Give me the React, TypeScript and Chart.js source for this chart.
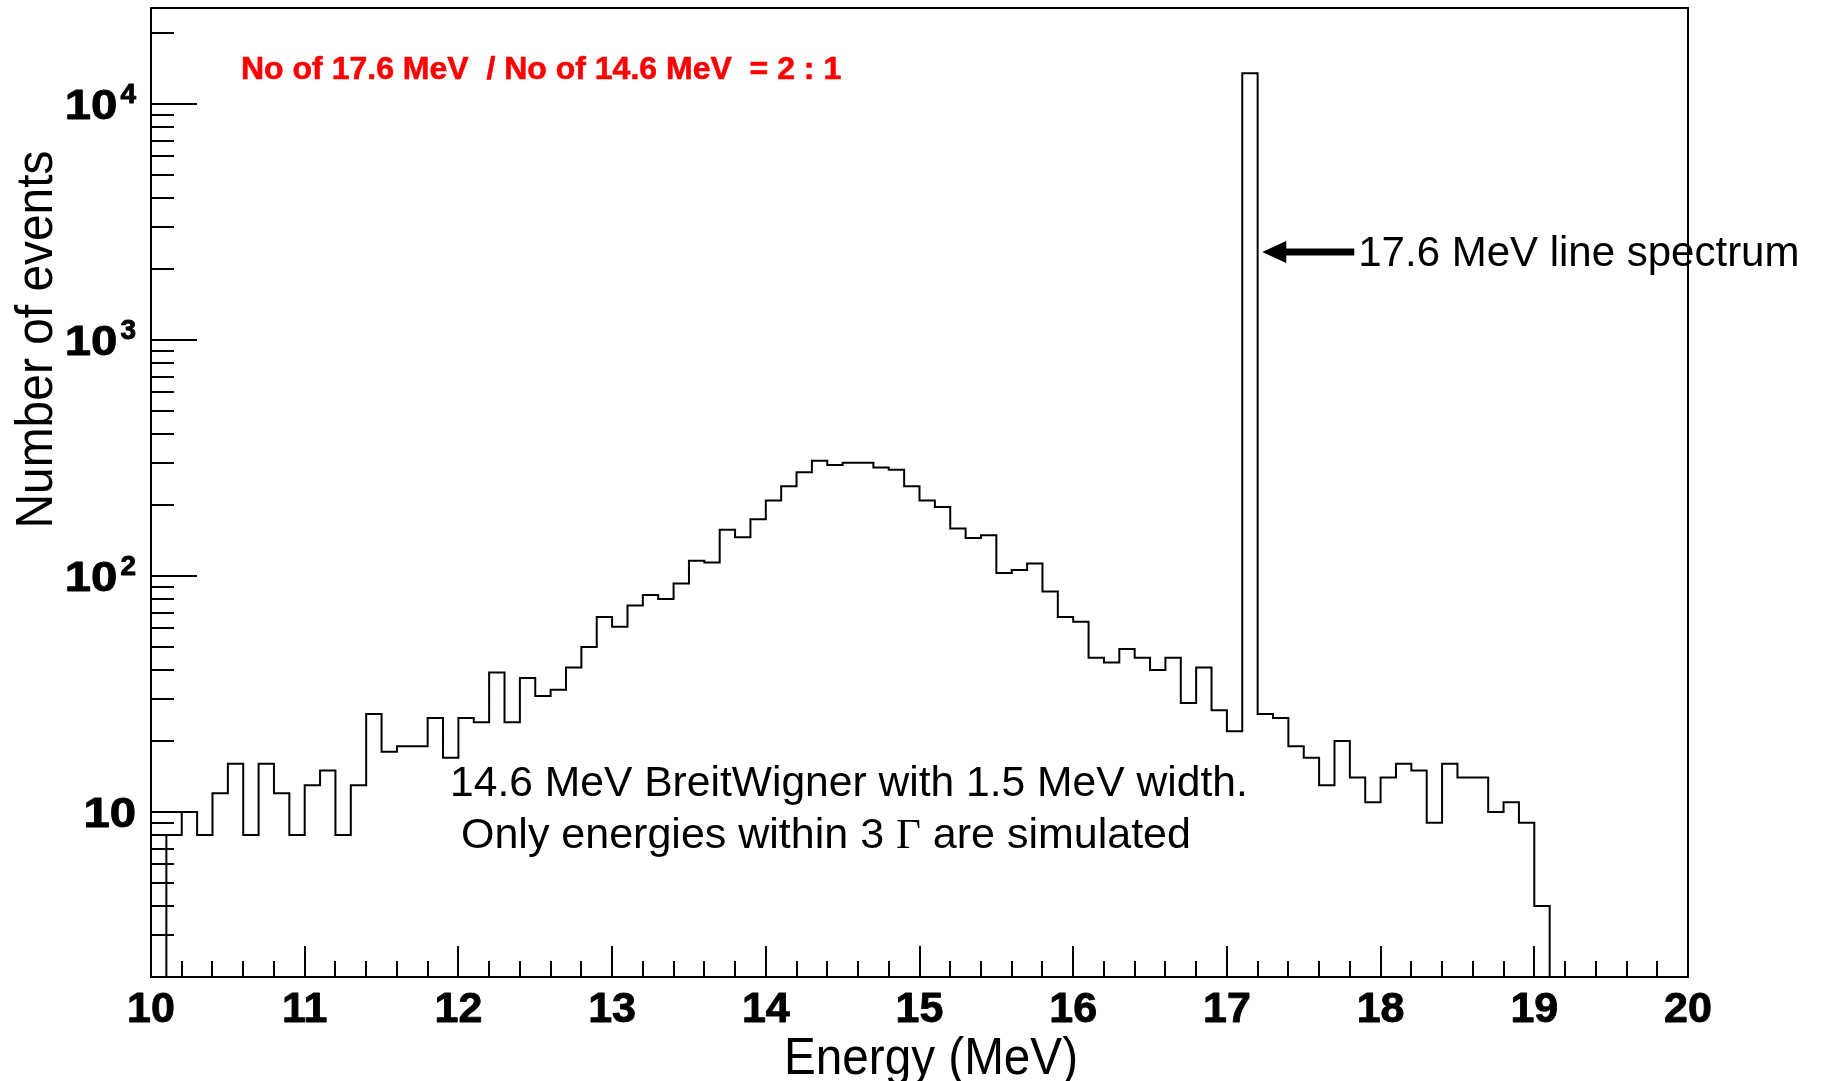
import React, { useEffect, useRef } from 'react';
import { Chart, registerables } from 'chart.js';

Chart.register(...registerables);

// ---- data -------------------------------------------------------------
const BIN_START = 10; // MeV
const BIN_WIDTH = 0.1; // MeV
// events per 0.1 MeV bin, 10.0 ... 19.9 MeV
const eventCounts = [
  0, 8, 10, 8, 12, 16, 8, 16, 12, 8, // 10.x
  13, 15, 8, 13, 26, 18, 19, 19, 25, 17, // 11.x
  25, 24, 39, 24, 37, 31, 33, 41, 50, 67, // 12.x
  61, 75, 83, 80, 93, 116, 114, 157, 146, 174, // 13.x
  209, 240, 275, 308, 295, 302, 302, 288, 282, 240, // 14.x
  209, 196, 159, 145, 149, 103, 106, 113, 86, 67, // 15.x
  64, 45, 43, 49, 45, 40, 45, 29, 41, 27, // 16.x
  22, 13500, 26, 25, 19, 17, 13, 20, 14, 11, // 17.x
  14, 16, 15, 9, 16, 14, 14, 10, 11, 9, // 18.x
  4, 0, 0, 0, 0, 0, 0, 0, 0, 0, // 19.x
];
const binLowEdges = eventCounts.map((_, i) => +(BIN_START + i * BIN_WIDTH).toFixed(1));

const X_MIN = 10;
const X_MAX = 20;
const Y_MIN = 2;
const Y_MAX = 25500;

const xTickValues = [10, 11, 12, 13, 14, 15, 16, 17, 18, 19, 20];
const xTickLabels = ['10', '11', '12', '13', '14', '15', '16', '17', '18', '19', '20'];
const yTickValues = [10, 100, 1000, 10000];
const yTickBases = ['10', '10', '10', '10'];
const yTickExponents = ['', '2', '3', '4'];

const xTitle = 'Energy (MeV)';
const yTitle = 'Number of events';
const ratioText = 'No of 17.6 MeV  / No of 14.6 MeV  = 2 : 1';
const lineLabel = '17.6 MeV line spectrum';
const bwLine1 = '14.6 MeV BreitWigner with 1.5 MeV width.';
const bwLine2a = 'Only energies within 3 ';
const bwLine2Gamma = 'Γ';
const bwLine2b = ' are simulated';
// arrow tip position, in data units (energy, events)
const arrowTip = { x: 17.23, y: 2360 };

const SANS = '"Liberation Sans", Arial, Helvetica, sans-serif';
const SERIF = '"Liberation Serif", "Times New Roman", serif';

function squeezedText(ctx: CanvasRenderingContext2D, text: string, width: number) {
  const w = ctx.measureText(text).width;
  ctx.scale(width / w, 1);
  ctx.fillText(text, 0, 0);
}

function heavyText(ctx: CanvasRenderingContext2D, text: string, x: number, y: number) {
  ctx.fillText(text, x, y);
  ctx.strokeText(text, x, y);
}

const rootStylePlugin = {
  id: 'rootStyle',
  beforeDraw(chart: any) {
    const { ctx, width, height } = chart;
    ctx.save();
    ctx.fillStyle = '#ffffff';
    ctx.fillRect(0, 0, width, height);
    ctx.restore();
  },
  afterDatasetsDraw(chart: any) {
    const { ctx, chartArea: a } = chart;
    const xs = chart.scales.x;
    const ys = chart.scales.y;
    ctx.save();
    ctx.strokeStyle = '#000';
    ctx.fillStyle = '#000';
    ctx.lineWidth = 2;

    // x ticks (inward)
    ctx.beginPath();
    for (let t = 0; t <= 50; t++) {
      const v = X_MIN + t * 0.2;
      const px = Math.round(xs.getPixelForValue(v));
      const len = t % 5 === 0 ? 31 : 16;
      ctx.moveTo(px, a.bottom);
      ctx.lineTo(px, a.bottom - len);
    }
    // y ticks (inward)
    for (let k = 0; k <= 4; k++) {
      const d = Math.pow(10, k);
      for (let m = 1; m <= 9; m++) {
        const v = m * d;
        if (v < Y_MIN || v > Y_MAX) continue;
        const py = Math.round(ys.getPixelForValue(v));
        const len = m === 1 ? 46 : 23;
        ctx.moveTo(a.left, py);
        ctx.lineTo(a.left + len, py);
      }
    }
    ctx.stroke();

    // frame
    ctx.strokeRect(a.left, a.top, a.right - a.left, a.bottom - a.top);

    // x tick labels
    ctx.lineWidth = 0.9;
    ctx.lineJoin = 'round';
    ctx.font = `bold 43px ${SANS}`;
    ctx.textAlign = 'center';
    ctx.textBaseline = 'alphabetic';
    xTickValues.forEach((v, i) => {
      heavyText(ctx, xTickLabels[i], xs.getPixelForValue(v), a.bottom + 45);
    });

    // y tick labels (10, 10^2 ...), slightly widened like the original
    const rightEdge = 136;
    const baseStretch = 1.1;
    const expGap = 3;
    yTickValues.forEach((v, i) => {
      const py = ys.getPixelForValue(v);
      ctx.textAlign = 'left';
      ctx.font = `bold 43px ${SANS}`;
      const wb = ctx.measureText(yTickBases[i]).width * baseStretch;
      ctx.font = `bold 28px ${SANS}`;
      const we = yTickExponents[i] ? ctx.measureText(yTickExponents[i]).width + expGap : 0;
      const x0 = rightEdge - wb - we;
      ctx.save();
      ctx.font = `bold 43px ${SANS}`;
      ctx.translate(x0, py + 15);
      ctx.scale(baseStretch, 1);
      heavyText(ctx, yTickBases[i], 0, 0);
      ctx.restore();
      if (yTickExponents[i]) {
        ctx.font = `bold 28px ${SANS}`;
        heavyText(ctx, yTickExponents[i], x0 + wb + expGap, py - 1);
      }
    });

    // axis titles
    ctx.save();
    ctx.font = `52px ${SANS}`;
    ctx.textAlign = 'center';
    ctx.translate(52, 339.5);
    ctx.rotate(-Math.PI / 2);
    squeezedText(ctx, yTitle, 378);
    ctx.restore();

    ctx.save();
    ctx.font = `52px ${SANS}`;
    ctx.textAlign = 'center';
    ctx.translate(931, 1074);
    squeezedText(ctx, xTitle, 294);
    ctx.restore();

    // red ratio text
    ctx.fillStyle = '#ff0000';
    ctx.strokeStyle = '#ff0000';
    ctx.lineWidth = 0.6;
    ctx.font = `bold 32px ${SANS}`;
    ctx.textAlign = 'left';
    heavyText(ctx, ratioText, 241, 79);

    // arrow + label for the line spectrum
    ctx.fillStyle = '#000';
    const tx = xs.getPixelForValue(arrowTip.x);
    const ty = ys.getPixelForValue(arrowTip.y);
    ctx.beginPath();
    ctx.moveTo(tx, ty);
    ctx.lineTo(tx + 24, ty - 11);
    ctx.lineTo(tx + 24, ty - 3.5);
    ctx.lineTo(tx + 92, ty - 3.5);
    ctx.lineTo(tx + 92, ty + 3.5);
    ctx.lineTo(tx + 24, ty + 3.5);
    ctx.lineTo(tx + 24, ty + 11);
    ctx.closePath();
    ctx.fill();
    ctx.font = `42px ${SANS}`;
    ctx.fillText(lineLabel, tx + 96, ty + 14);

    // Breit-Wigner annotation
    ctx.font = `42.6px ${SANS}`;
    ctx.fillText(bwLine1, 450, 795.5);
    let cx = 461;
    ctx.font = `43px ${SANS}`;
    ctx.fillText(bwLine2a, cx, 848);
    cx += ctx.measureText(bwLine2a).width;
    ctx.font = `43px ${SERIF}`;
    ctx.fillText(bwLine2Gamma, cx, 848);
    cx += ctx.measureText(bwLine2Gamma).width;
    ctx.font = `43px ${SANS}`;
    ctx.fillText(bwLine2b, cx, 848);

    ctx.restore();
  },
};

export default function App() {
  const canvasRef = useRef<HTMLCanvasElement | null>(null);

  useEffect(() => {
    document.body.style.margin = '0';
    document.body.style.overflow = 'hidden';
    const canvas = canvasRef.current;
    if (!canvas) return;

    const points = binLowEdges.map((e, i) => ({ x: e, y: Math.max(eventCounts[i], Y_MIN) }));
    points.push({ x: X_MAX, y: Math.max(eventCounts[eventCounts.length - 1], Y_MIN) });

    const chart = new Chart(canvas, {
      type: 'line',
      data: {
        datasets: [
          {
            label: 'events',
            data: points,
            borderColor: '#000000',
            borderWidth: 2,
            pointRadius: 0,
            fill: false,
            stepped: 'before',
            tension: 0,
          },
        ],
      },
      options: {
        responsive: false,
        animation: false,
        devicePixelRatio: 1,
        layout: { padding: { left: 151, right: 1821 - 1688, top: 8, bottom: 1081 - 977 } },
        scales: {
          x: { type: 'linear', min: X_MIN, max: X_MAX, display: false },
          y: { type: 'logarithmic', min: Y_MIN, max: Y_MAX, display: false },
        },
        plugins: {
          legend: { display: false },
          tooltip: { enabled: false },
        },
      },
      plugins: [rootStylePlugin],
    });

    return () => chart.destroy();
  }, []);

  return (
    <div style={{ width: 1821, height: 1081, overflow: 'hidden' }}>
      <canvas ref={canvasRef} width={1821} height={1081} style={{ display: 'block' }} />
    </div>
  );
}
